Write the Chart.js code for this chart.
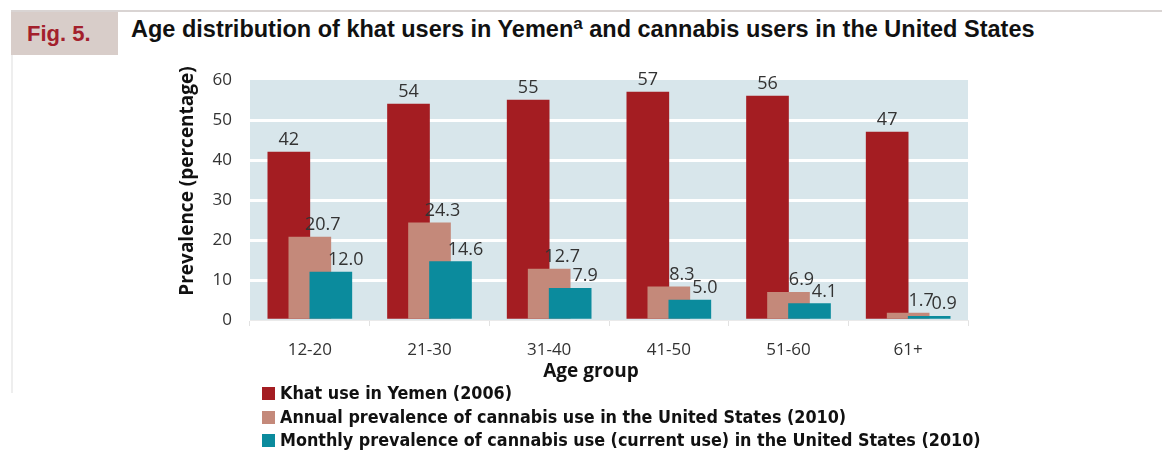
<!DOCTYPE html>
<html>
<head>
<meta charset="utf-8">
<script src="https://cdn.jsdelivr.net/npm/chart.js@4"></script>
<style>
    html, body { margin: 0; padding: 0; background: #fff; }
    #wrap { position: relative; width: 1162px; height: 452px; overflow: hidden; }
    #chartBox { position: absolute; left: 0; top: 0; width: 1162px; height: 452px; }
    .topline { position: absolute; left: 11px; top: 10px; width: 1151px; height: 2px; background: #d9d4d3; }
    .leftline { position: absolute; left: 11px; top: 55px; width: 2px; height: 338px; background: #eeeeee; }
    .figbox { position: absolute; left: 11px; top: 12px; width: 107px; height: 43px; background: #d8cdc9; }
    .figbox span { position: absolute; left: 16px; top: 9px; font: bold 22px "Liberation Sans", Arial, sans-serif; color: #a3202c; }
    .title { position: absolute; left: 131px; top: 16px; font: bold 23.5px "Liberation Sans", Arial, sans-serif; color: #111; white-space: nowrap; }
    .title sup { font-size: 17px; vertical-align: 8px; line-height: 0; }
    #legend { position: absolute; left: 262px; top: 381px; font: bold 17.8px "Liberation Sans Narrow", "DejaVu Sans Condensed", sans-serif; color: #111; }
    #legend div { height: 23.5px; line-height: 23.5px; white-space: nowrap; }
    #legend i { display: inline-block; width: 13px; height: 13px; margin-right: 5px; vertical-align: -1px; }
</style>
</head>
<body>
<div id="wrap">
    <div class="topline"></div>
    <div class="leftline"></div>
    <div class="figbox"><span>Fig. 5.</span></div>
    <div class="title">Age distribution of khat users in Yemen<sup>a</sup> and cannabis users in the United States</div>
    <div id="chartBox"><canvas id="chart"></canvas></div>
    <div id="legend"></div>
</div>
<script>
(function () {
    const ageGroups = ['12-20', '21-30', '31-40', '41-50', '51-60', '61+'];
    const khatYemen = [42, 54, 55, 57, 56, 47];
    const cannabisAnnual = [20.7, 24.3, 12.7, 8.3, 6.9, 1.7];
    const cannabisMonthly = [12.0, 14.6, 7.9, 5.0, 4.1, 0.9];
    const seriesNames = [
        'Khat use in Yemen (2006)',
        'Annual prevalence of cannabis use in the United States (2010)',
        'Monthly prevalence of cannabis use (current use) in the United States (2010)'
    ];
    const yTicks = [0, 10, 20, 30, 40, 50, 60];

    const colors = ['#a41d22', '#c4897a', '#0b8b9d'];
    // the three bars of a group overlap, each shifted by this part of a category
    const barShift = [-0.1755, 0, 0.1755];
    const labelShift = [0, 13, 15];   // value labels sit a bit to the right for the short bars
    const labelDecimals = [0, 1, 1];
    const textFont = '"Open Sans", "Liberation Sans", sans-serif';

    function points(values, s) {
        return values.map(function (v, i) { return { x: i + barShift[s], y: v }; });
    }

    // light blue panel behind the bars
    const panelBg = {
        id: 'panelBg',
        beforeDraw: function (chart) {
            const a = chart.chartArea;
            const ctx = chart.ctx;
            ctx.save();
            ctx.fillStyle = '#d8e6eb';
            ctx.fillRect(a.left, a.top, a.right - a.left, a.bottom - a.top);
            ctx.restore();
        }
    };

    // numbers above each bar
    const valueLabels = {
        id: 'valueLabels',
        afterDatasetsDraw: function (chart) {
            const ctx = chart.ctx;
            ctx.save();
            ctx.font = '18px ' + textFont;
            ctx.fillStyle = '#333';
            ctx.textAlign = 'center';
            ctx.textBaseline = 'alphabetic';
            chart.data.datasets.forEach(function (ds, i) {
                chart.getDatasetMeta(i).data.forEach(function (bar, j) {
                    ctx.fillText(ds.data[j].y.toFixed(labelDecimals[i]), bar.x + labelShift[i], bar.y - 7);
                });
            });
            ctx.restore();
        }
    };

    // axis titles, placed a little off-centre like the printed figure
    const axisTitles = {
        id: 'axisTitles',
        afterDraw: function (chart) {
            const ctx = chart.ctx;
            const a = chart.chartArea;
            ctx.save();
            ctx.font = 'bold 19px ' + textFont;
            ctx.fillStyle = '#111';
            ctx.textAlign = 'center';
            ctx.textBaseline = 'middle';
            ctx.fillText('Age group', (a.left + a.right) / 2 - 18, a.bottom + 52);
            ctx.translate(a.left - 62, (a.top + a.bottom) / 2 - 19);
            ctx.rotate(-Math.PI / 2);
            ctx.fillText('Prevalence (percentage)', 0, 0);
            ctx.restore();
        }
    };

    // later series are painted over the earlier ones
    const chart = new Chart(document.getElementById('chart').getContext('2d'), {
        type: 'bar',
        data: {
            datasets: [
                { label: seriesNames[0], data: points(khatYemen, 0), backgroundColor: colors[0], order: 3 },
                { label: seriesNames[1], data: points(cannabisAnnual, 1), backgroundColor: colors[1], order: 2 },
                { label: seriesNames[2], data: points(cannabisMonthly, 2), backgroundColor: colors[2], order: 1 }
            ]
        },
        options: {
            responsive: true,
            maintainAspectRatio: false,
            animation: false,
            grouped: false,
            barThickness: 42,
            layout: { padding: { left: 170, right: 194, top: 80, bottom: 70 } },
            plugins: {
                legend: { display: false },
                tooltip: { enabled: false }
            },
            scales: {
                x: {
                    type: 'linear',
                    min: -0.5,
                    max: 5.5,
                    offset: false,
                    afterBuildTicks: function (scale) {
                        scale.ticks = ageGroups.map(function (g, i) { return { value: i }; });
                    },
                    grid: { display: true, offset: true, drawOnChartArea: false, color: '#e2e2e2', tickLength: 6 },
                    border: { color: '#eaeaea' },
                    ticks: {
                        color: '#333',
                        font: { family: textFont, size: 17 },
                        padding: 14,
                        maxRotation: 0,
                        callback: function (v) { return ageGroups[v]; }
                    },
                    afterFit: function (scale) { scale.height = 62; }
                },
                y: {
                    min: 0,
                    max: 60,
                    afterBuildTicks: function (scale) {
                        scale.ticks = yTicks.map(function (v) { return { value: v }; });
                    },
                    grid: {
                        drawTicks: false,
                        lineWidth: 3,
                        color: function (ctx) {
                            const v = ctx.tick ? ctx.tick.value : 0;
                            return (v === 0 || v === 60) ? 'rgba(0,0,0,0)' : '#ffffff';
                        }
                    },
                    border: { display: false },
                    ticks: { color: '#333', font: { family: textFont, size: 17 }, padding: 18 },
                    afterFit: function (scale) { scale.width = 80; }
                }
            }
        },
        plugins: [panelBg, valueLabels, axisTitles]
    });

    const legend = document.getElementById('legend');
    chart.data.datasets.forEach(function (ds) {
        legend.innerHTML += '<div><i style="background:' + ds.backgroundColor + '"></i>' + ds.label + '</div>';
    });
})();
</script>
</body>
</html>
